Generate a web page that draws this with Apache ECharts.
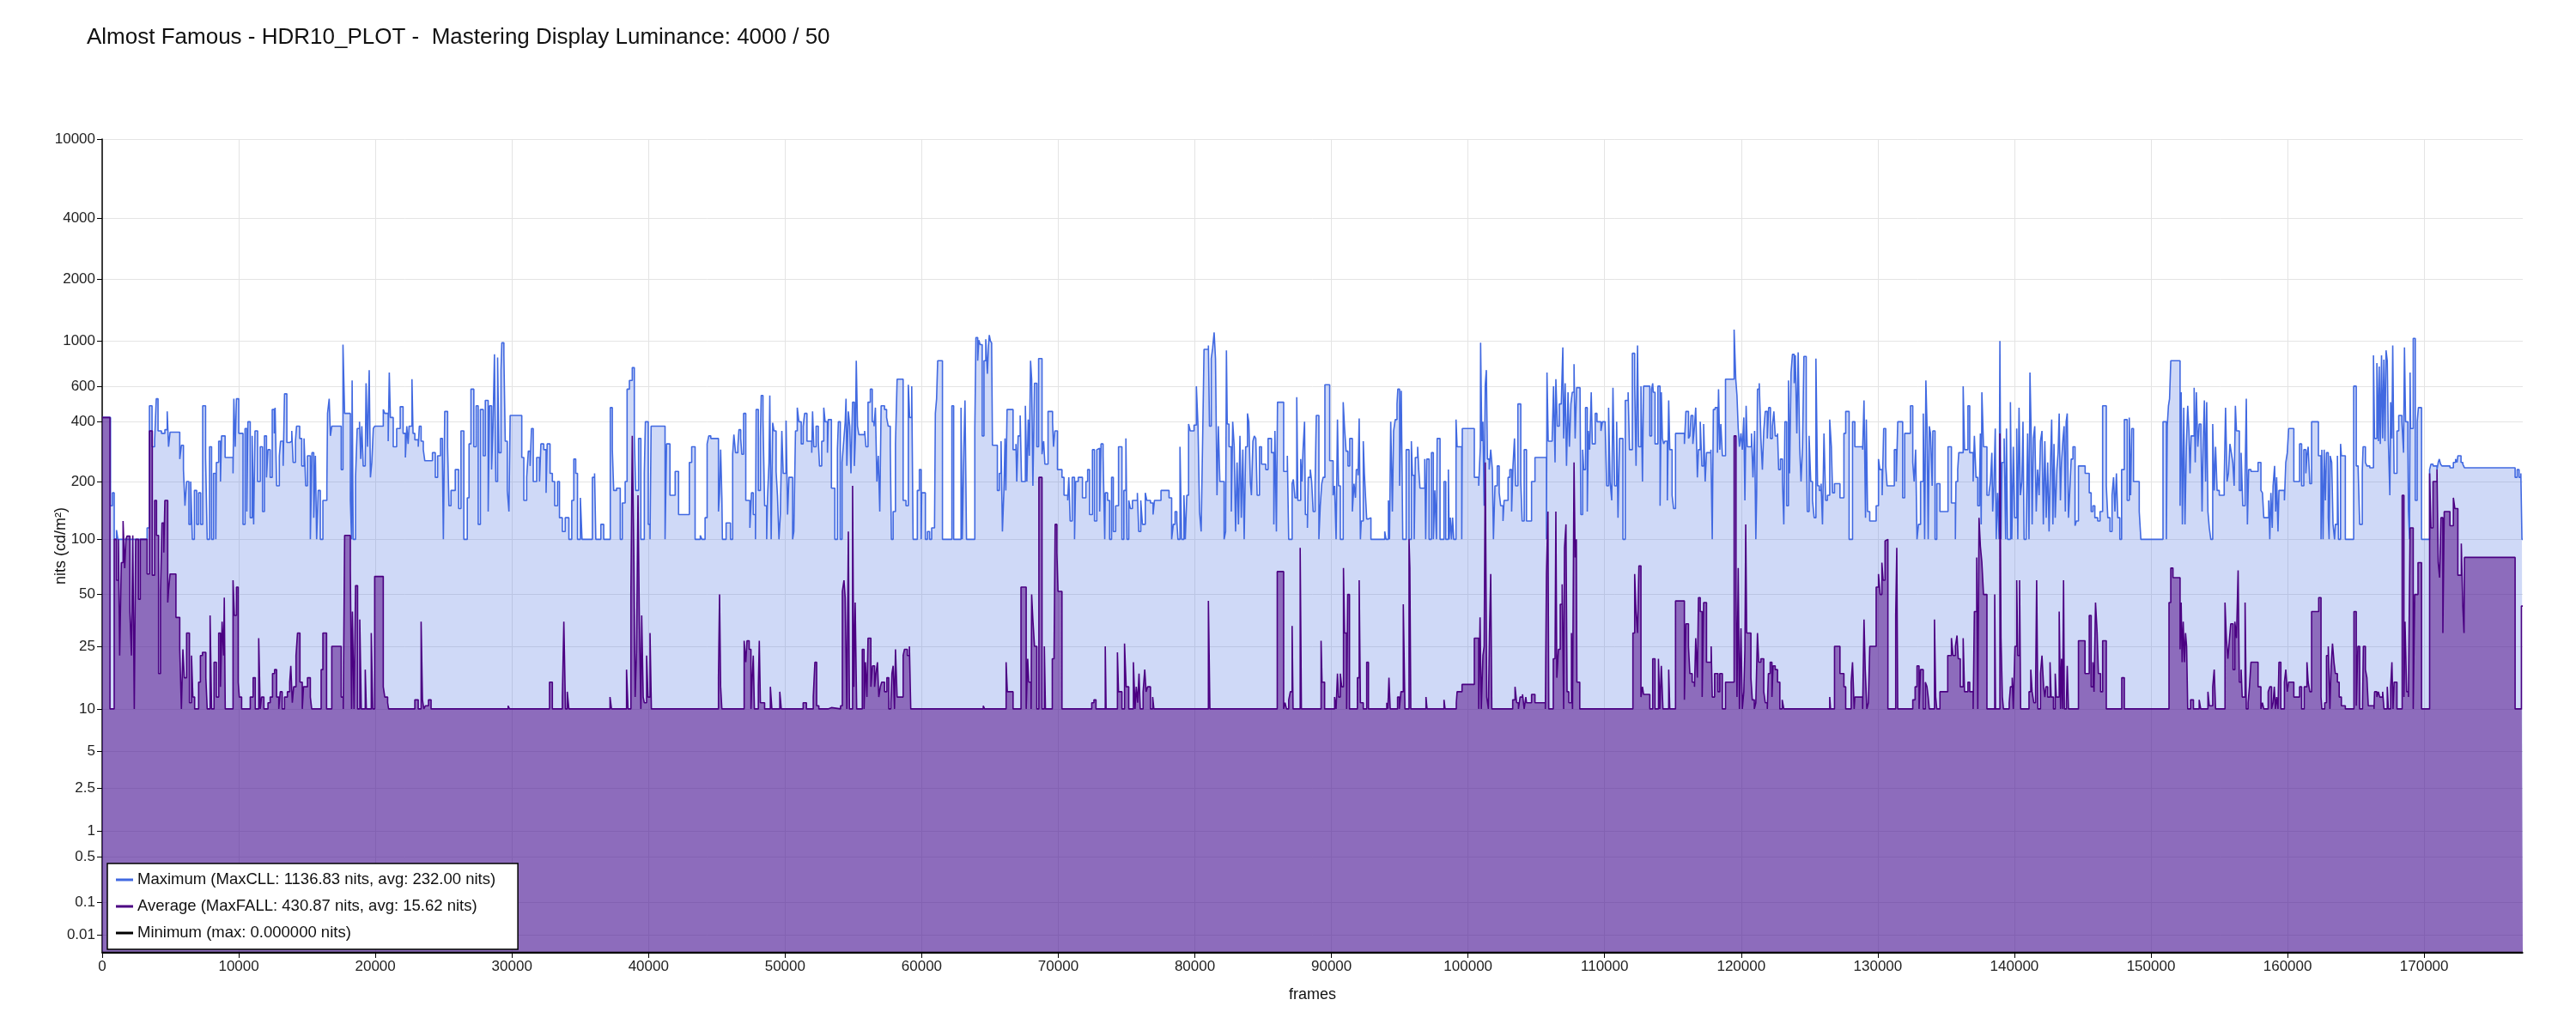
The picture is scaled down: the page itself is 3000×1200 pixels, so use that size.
<!DOCTYPE html>
<html>
<head>
<meta charset="utf-8">
<title>Almost Famous - HDR10_PLOT</title>
<script src="https://cdn.jsdelivr.net/npm/echarts@6/dist/echarts.min.js"></script>
<style>
  html, body { margin: 0; padding: 0; background: #fff; }
  #main { width: 3000px; height: 1200px; }
</style>
</head>
<body>
<div id="main"></div>
<script>
// 每一项为 [帧号, 亮度 nits]，数值保持到下一项（阶梯）
const maxSteps = [
  [0,420],[610,150],[750,175],[880,100],[1050,112],[1150,100],[3290,115],[3460,480],[3650,300],[3840,320],[3960,520],[4090,360],[4340,350],[4590,365],[4760,450],[4860,300],[4970,355],[5680,260],[5800,305],[5950,230],[6060,150],[6180,200],[6350,120],[6480,200],[6600,100],[6750,180],[6920,120],[7060,175],[7210,120],[7360,480],[7570,265],[7690,100],[7860,300],[8010,100],[8150,220],[8320,100],[8360,250],[8530,320],[8660,200],[8740,340],[9000,265],[9580,220],[9640,520],[9740,300],[9830,520],[10000,350],[10310,120],[10460,370],[10590,140],[10670,400],[10840,130],[10980,340],[11090,120],[11190,360],[11380,200],[11570,300],[11740,140],[11880,340],[12030,210],[12140,290],[12300,210],[12450,460],[12600,350],[12660,470],[12770,190],[12970,270],[13060,320],[13250,240],[13350,550],[13520,315],[13730,320],[13880,360],[13980,250],[14150,320],[14230,380],[14460,330],[14610,240],[14780,330],[14900,190],[15030,270],[15240,100],[15360,280],[15490,130],[15610,270],[15700,100],[15820,180],[15970,100],[16160,160],[16450,190],[16500,440],[16620,520],[16710,340],[16810,380],[17500,230],[17630,960],[17750,440],[18170,160],[18260,100],[18300,640],[18380,100],[18550,210],[18670,370],[18840,400],[18930,260],[19010,380],[19110,240],[19260,250],[19320,620],[19430,300],[19550,720],[19640,210],[19740,250],[19850,370],[19950,380],[20580,460],[20690,440],[20940,320],[21020,700],[21100,420],[21310,300],[21560,370],[21820,475],[22030,350],[22200,265],
  [22300,380],[22400,310],[22470,380],[22680,650],[22760,350],[22890,325],[23140,300],[23220,380],[23350,320],[23510,290],[23620,255],[24180,280],[24390,210],[24560,270],[24770,330],[24910,260],[24980,100],[25080,450],[25290,300],[25390,150],[25540,180],[25850,230],[26100,145],[26270,360],[26480,100],[26730,165],[26860,310],[27000,580],[27210,300],[27380,480],[27530,120],[27690,460],[27900,270],[28050,510],[28260,140],[28360,480],[28510,230],[28610,370],[28720,860],[28820,200],[28950,830],[29050,280],[29200,720],[29260,980],[29410,850],[29510,320],[29660,180],[29780,140],[29870,430],[30720,265],[30870,160],[31080,210],[31200,285],[31330,240],[31430,370],[31560,200],[31810,265],[32020,200],[32120,310],[32330,290],[32500,175],[32580,310],[32790,220],[32960,200],[33130,150],[33340,200],[33480,130],[33690,110],[33900,130],[34170,100],[34380,160],[34530,260],[34670,220],[34800,100],[35010,165],[35130,100],[35890,210],[36050,220],[36140,100],[36510,120],[36720,100],[37200,470],[37350,290],[37450,180],[37660,185],[37930,100],[38080,155],[38290,200],[38430,580],[38600,640],[38810,740],[38960,340],[39060,180],[39270,330],[39440,100],[39690,220],[39770,400],[39980,120],[40110,100],[40190,380],[41210,100],[41320,310],[41570,170],[41950,225],[42200,135],[42990,250],[43160,300],[43410,100],[43790,105],[43910,100],[44140,130],[44290,310],[44410,340],[44560,330],
  [44950,330],[45120,140],[45200,175],[45280,290],[45370,165],[45410,100],[45680,122],[46000,100],[46160,275],[46250,345],[46370,280],[46540,300],[46620,365],[46750,330],[46830,275],[46960,440],[47120,160],[47420,115],[47540,175],[47670,135],[47830,100],[47880,460],[48040,180],[48190,330],[48250,540],[48380,410],[48500,150],[48650,100],[48710,165],[48820,250],[48880,540],[48980,100],[49090,395],[49190,360],[49340,225],[49440,170],[49550,100],[49650,135],[49760,360],[49860,220],[50070,405],[50180,135],[50280,210],[50550,100],[50640,110],[50760,360],[50890,470],[51010,400],[51180,310],[51320,380],[51430,440],[51600,320],[51950,280],[52010,450],[52100,300],[52270,380],[52430,320],[52520,240],[52680,320],[52830,470],[52930,400],[53100,280],[53160,410],[53390,185],[53640,100],[53830,290],[53900,400],[54040,100],[54170,250],[54290,320],[54400,400],[54460,520],[54520,240],[54630,450],[54730,380],[54820,220],[54940,500],[55070,240],[55150,340],[55210,800],[55300,380],[55400,345],[55820,360],[55920,300],[56070,500],[56240,580],[56380,400],[56510,380],[56610,470],[56720,200],[56820,270],[56930,140],[57030,480],[57280,460],[57430,420],[57550,380],[57700,300],[57780,100],[57910,140],[58080,310],[58200,650],[58640,160],[58850,150],[59020,610],[59120,420],[59270,600],[59370,100],[59680,180],[59830,230],[59960,100],[60000,175],[60270,100],[60420,110],[60580,100],[60730,115],[60940,120],[61000,440],[61090,520],[61170,800],[61520,100],[62210,480],[62340,100],[62880,470],[62970,100],[63090,300],[63170,510],[63280,100],[63890,370],[63970,1040],[64100,800],[64180,1010],[64280,960],[64430,340],[64560,800],[64690,1020],[64810,690],[64890,950],[64950,1070],[65030,1000],[65120,980],[65180,305],[65540,180],[65680,220],[65810,320],[65910,110],[66020,180],[66100,330],[66160,180],[66250,460],[66690,290],[66900,310],[66960,200],[67060,340],[67210,430],[67310,200],
  [67590,480],[67700,200],[67800,410],[67880,270],[67970,800],[68050,650],[68140,190],[68260,620],[68430,300],[68560,820],[68810,275],[68930,320],[69020,245],[69250,450],[69580,400],[69650,300],[69750,360],[69940,230],[70270,210],[70420,170],[70690,160],[70770,210],[70870,125],[71020,210],[71190,100],[71270,200],[71460,210],[71770,165],[72020,200],[72150,230],[72290,135],[72500,290],[72650,125],[72820,290],[72940,295],[73030,140],[73130,310],[73280,270],[73400,100],[73440,175],[73610,160],[73760,100],[73900,210],[74030,110],[74200,150],[74410,300],[74660,100],[74800,180],[74950,330],[75030,100],[75160,160],[75280,145],[75430,160],[75790,175],[75890,110],[76040,160],[76160,120],[76370,175],[76480,160],[76750,155],[76940,135],[77040,160],[77520,180],[78110,165],[78300,100],[78420,120],[78550,140],[78680,125],[78760,100],[78910,300],[79030,100],[79200,170],[79300,100],[79410,170],[79540,390],[79660,360],[79940,385],[80110,600],[80230,380],[80340,140],[80460,110],[80570,330],[80670,910],[80990,950],[81070,380],[81200,820],[81300,920],[81410,1100],[81510,820],[81620,170],[81720,380],[81830,200],[82140,100],[82250,110],[82310,900],[82370,390],[82500,300],[82670,140],[82770,400],[82880,300],[82980,110],[83090,250],[83190,120],[83300,340],[83400,130],[83510,290],[83610,100],[83720,300],[83850,440],[83950,400],[84060,200],[84140,170],[84250,320],[84350,340],[84460,330],[84560,170],[84730,300],[84880,245],[85190,230],[85360,330],[85610,280],[85780,120],[85860,360],[85970,110],[86050,500],[86500,225],[86770,270],[86870,100],[87120,195],[87210,205],[87330,165],[87460,530],[87540,160],[87750,260],[87840,200],[87920,290],[88030,400],[88090,135],[88240,115],[88300,210],[88450,230],[88550,200],[88660,140],[88800,190],[88890,430],[89080,100],[89180,150],[89290,195],[89390,210],[89520,610],[89870,255],[90120,170],
  [90230,190],[90340,100],[90440,410],[90520,190],[90650,100],[90860,500],[90960,370],[91070,285],[91210,240],[91340,330],[91530,140],[91650,195],[91760,165],[91820,230],[91950,215],[92030,415],[92120,100],[92180,125],[92330,320],[92410,220],[92500,165],[92580,128],[92710,130],[92890,100],[93900,110],[94000,100],[94170,160],[94250,100],[94340,400],[94460,140],[94550,360],[94670,410],[94800,490],[94860,580],[94990,190],[95110,570],[95220,100],[95470,290],[95680,100],[95850,320],[95930,215],[96060,100],[96140,265],[96310,300],[96390,230],[96480,185],[96830,260],[96900,100],[96980,260],[97150,100],[97320,280],[97460,100],[97570,180],[97690,100],[97740,330],[97950,100],[98240,200],[98370,100],[98560,230],[98620,100],[98700,130],[98790,100],[98870,130],[98950,100],[99120,410],[99200,300],[99540,100],[99580,370],[100460,210],[100780,190],[100900,300],[100920,980],[101010,320],[101090,400],[101180,150],[101260,610],[101340,720],[101420,260],[101550,230],[101660,290],[101780,230],[101860,100],[101970,190],[102140,240],[102280,175],[102390,150],[102560,125],[102640,160],[102930,210],[103060,230],[103190,140],[103290,240],[103400,330],[103480,190],[103650,490],[103860,200],[103960,125],[104110,290],[104280,125],[104650,200],[104900,265],[105740,100],[105780,700],[105870,320],[106160,330],[106260,600],[106370,250],[106430,650],[106540,380],[106680,490],[106830,500],[106940,930],[107000,330],[107110,620],[107210,240],[107320,560],[107420,300],[107530,490],[107630,560],[107760,770],[107840,330],[107950,590],[108200,560],[108260,135],[108390,290],[108470,230],[108600,470],[108730,140],[108810,360],[108900,290],[109020,560],[109100,310],[109310,440],[109440,400],[109730,360],[109840,400],[110040,390],[110150,190],[110290,470],[110400,200],[110520,160],[110610,590],[110730,190],[110880,400],[110980,130],[111090,330],[111340,100],[111510,510],[111720,560],[111820,290],[112030,870],[112200,610],[112300,240],[112410,950],[112490,300],[112660,600],[112770,200],
  [112850,600],[113310,340],[113440,580],[113520,620],[113560,560],[113690,310],[113900,600],[114060,150],[114150,560],[114230,330],[114320,310],[114420,320],[114590,160],[114690,510],[114770,290],[114940,170],[115050,145],[115190,350],[115840,310],[115950,450],[116140,330],[116240,340],[116330,430],[116460,310],[116580,380],[116670,470],[116790,210],[116870,290],[117000,400],[117120,240],[117250,390],[117360,200],[117460,280],[117780,290],[117880,100],[117960,460],[118090,470],[118260,280],[118340,580],[118430,290],[118510,390],[118620,270],[118850,650],[119480,1137],[119600,650],[119690,540],[119780,370],[119870,300],[119980,350],[120080,290],[120190,420],[120270,160],[120360,480],[120440,300],[120750,350],[120860,210],[120980,360],[121070,100],[121130,170],[121190,580],[121320,620],[121440,330],[121550,230],[121650,360],[121760,450],[121910,330],[122010,470],[122140,330],[122280,380],[122390,450],[122490,340],[122660,350],[122740,230],[122870,260],[123020,200],[123120,120],[123200,400],[123330,150],[123460,640],[123540,220],[123650,700],[123750,860],[123880,620],[123960,850],[124070,350],[124170,880],[124280,300],[124380,200],[124490,300],[124590,840],[124760,370],[124840,140],[124970,340],[125090,200],[125220,160],[125340,130],[125470,820],[125590,190],[125720,180],[125850,195],[125950,120],[126060,350],[126180,160],[126310,170],[126480,410],[126600,300],[126690,175],[126830,195],[127230,165],[127520,350],[127650,450],[127900,100],[128150,400],[128320,300],[128890,290],[128990,510],[129100,130],[129160,410],[129250,140],[129410,125],[129880,150],[130050,260],[130150,230],[130320,170],[130430,370],[130580,240],[130680,190],[131210,290],[131350,200],[131460,400],[131820,165],[131970,350],[132390,480],[132560,250],[132660,200],[132770,290],[132870,100],[132980,120],[133130,200],[133330,440],[133430,100],[133520,640],[133600,390],[133690,100],[133770,380],[133860,350],[133980,190],[134030,360],[134190,100],[134320,195],[134550,140],[135140,300],[135390,155],
  [135510,155],[135680,100],[135720,200],[135850,230],[135930,280],[136250,600],[136350,290],[136600,480],[136730,280],[136980,200],[137070,340],[137190,210],[137320,150],[137450,200],[137510,350],[137570,120],[137620,560],[137740,300],[137990,170],[138140,175],[138250,200],[138350,280],[138410,140],[138500,190],[138600,370],[138670,100],[138770,175],[138880,100],[138940,1000],[139020,100],[139090,250],[139250,330],[139360,100],[139420,370],[139500,100],[139710,500],[139810,100],[139920,300],[140020,130],[140170,370],[140250,100],[140340,470],[140440,170],[140550,200],[140630,400],[140710,100],[140860,110],[140970,350],[141070,100],[141140,700],[141220,380],[141300,120],[141390,330],[141490,380],[141600,140],[141700,230],[141810,170],[141910,320],[142020,360],[142120,120],[142230,320],[142330,130],[142440,250],[142540,110],[142650,260],[142730,410],[142820,120],[142900,310],[142990,130],[143110,230],[143200,280],[143280,440],[143370,160],[143450,250],[143560,330],[143640,380],[143730,140],[143790,400],[143870,440],[143960,130],[144040,170],[144160,260],[144290,300],[144440,118],[144540,125],[144690,240],[145180,220],[145480,175],[145620,140],[145750,150],[145890,130],[146100,125],[146270,140],[146460,480],[146730,190],[146840,130],[147000,110],[147150,170],[147260,210],[147360,140],[147470,220],[147570,130],[147720,100],[147850,230],[148050,410],[148260,160],[148410,420],[148510,170],[148590,370],[148720,200],[149140,140],[149260,100],[150880,400],[151130,100],[151190,380],[151280,480],[151360,520],[151450,800],[152130,150],[152210,560],[152300,120],[152400,470],[152490,120],[152590,300],[152690,480],[152780,360],[152860,220],[152940,340],[153160,590],[153240,250],[153320,560],[153430,300],[153530,390],[153660,340],[153740,140],[153830,330],[153910,510],[154000,200],[154080,500],[154170,140],[154270,115],[154380,100],[154520,390],[154630,180],[154730,300],[154840,180],[155000,170],[155360,200],[155460,470],[155570,200],[155670,220],[155780,310],[155880,280],[155990,250],[156090,190],[156180,480],[156260,360],[156470,180],[156600,280],[156720,150],[156890,210],[156980,520],[157060,120],[157150,230],[157320,225],[157840,250],[158050,180],
  [158160,175],[158260,130],[158620,160],[158700,100],[158780,175],[158880,115],[158940,190],[159050,240],[159130,140],[159200,210],[159300,110],[159370,180],[159770,160],[159870,250],[159980,280],[160080,370],[160460,200],[160880,310],[161030,190],[161190,290],[161340,220],[161420,270],[161510,300],[161630,195],[161760,400],[162260,270],[162450,100],[162510,290],[162600,100],[162680,290],[162770,160],[162850,280],[162980,130],[163040,100],[163120,270],[163230,250],[163330,120],[163440,100],[163500,120],[163650,270],[163730,100],[163880,310],[163940,270],[164230,100],[164840,600],[165030,240],[165170,230],[165280,120],[165470,225],[165530,300],[165700,250],[165810,240],[166020,235],[166290,850],[166370,330],[166540,780],[166650,320],[166710,750],[166790,310],[166880,850],[166960,330],[167050,810],[167130,320],[167210,900],[167300,800],[167380,320],[167490,170],[167550,500],[167640,330],[167700,950],[167800,220],[168010,360],[168140,430],[168370,400],[168490,280],[168560,930],[168640,400],[168810,300],[168850,140],[168930,100],[168970,700],[169010,370],[169200,1030],[169350,160],[169490,400],[169580,470],[169810,100],[170400,230],[170500,245],[170650,240],[170940,230],[171030,250],[171110,260],[171200,245],[171300,240],[171890,235],[172140,250],[172300,260],[172410,250],[172470,270],[172700,250],[172830,245],[172950,235],[176660,210],[176810,230],[176950,210],[177080,220],[177160,100],[177220,100]
];

const avgSteps = [
  [0,420],[570,10],[880,100],[1050,60],[1190,100],[1280,22],[1400,75],[1530,125],[1650,70],[1740,100],[1820,104],[2030,40],[2140,22],[2240,105],[2350,10],[2450,100],[2660,47],[2790,100],[3290,65],[3460,360],[3670,64],[3840,160],[3980,105],[4130,17],[4270,52],[4380,122],[4510,85],[4590,160],[4800,45],[4860,53],[4970,65],[5400,37],[5680,24],[5800,10],[5910,24],[6010,16],[6180,30],[6390,11],[6540,22],[6640,12],[6770,10],[7060,15],[7190,22],[7340,23],[7590,16],[7690,10],[7900,38],[8010,10],[8190,20],[8360,12],[8530,30],[8660,14],[8780,35],[8890,22],[8940,48],[9010,10],[9580,60],[9680,38],[9830,55],[9960,15],[10040,12],[10210,10],[10840,12],[11050,16],[11210,10],[11460,28],[11570,10],[11670,12],[11840,10],[12140,11],[12300,12],[12470,17],[12620,18],[12770,12],[12930,10],[13040,13],[13180,10],[13350,12],[13560,13],[13730,15],[13810,19],[13920,11],[14020,14],[14190,22],[14300,30],[14480,15],[14650,10],[14740,14],[15030,16],[15240,12],[15340,10],[16030,18],[16160,30],[16430,10],[16810,25],[17500,12],[17650,10],[17750,105],[18170,68],[18260,10],[18320,40],[18440,10],[18550,56],[18700,10],[18860,36],[18970,10],[19260,18],[19340,10],[19700,30],[19810,10],[19950,63],[20580,14],[20690,12],[20900,11],[20970,10],
  [22890,11.5],[23140,10],[23350,35],[23450,11.5],[23550,10],[23660,10.5],[23890,11.5],[24080,10],[29720,10.5],[29820,10],[32750,15],[32960,10],[33690,12],[33800,35],[33920,10],[34050,13],[34170,10],[37180,12],[37290,10],[38390,18],[38500,10],[38710,50],[38810,340],[38920,90],[39020,12],[39120,23],[39230,170],[39330,35],[39440,10],[39500,38],[39610,12],[39690,11],[39860,22],[39960,12],[40110,30],[40210,10],
  [45120,16],[45200,50],[45280,14],[45370,10],[47000,27],[47120,20],[47210,27],[47370,24],[47500,10],[47560,14],[47670,22],[47750,10],[48040,14],[48110,27],[48190,11],[48500,10],[48920,14],[49030,10],[49610,13],[49720,10],[51320,11],[51560,10],[52060,12],[52180,20],[52310,10.5],[52470,10],[53140,10.2],[53390,10],[54060,10.5],[54190,52],[54310,60],[54400,48],[54520,10],[54630,110],[54710,10],[54940,190],[55030,14],[55130,45],[55240,10],[55650,24],[55780,10],[55880,20],[55990,12],[56070,28],[56280,14],[56400,19],[56550,14],[56650,17],[56760,20],[56860,12],[56970,14],[57070,15],[57280,13],[57450,16],[57590,10],[57740,11],[57820,17],[57910,19],[58010,10],[58080,24],[58200,12],[58640,22],[58740,24],[58950,22],[59100,25],[59200,10],[64510,10.5],[64600,10],[66180,20],[66270,13],[66690,10],[67270,55],
  [67650,10],[67760,21],[67840,15],[68010,10],[68050,50],[68140,36],[68260,25],[68430,10],[68580,210],[68810,10],[68980,25],[69060,10],[69560,21],[69690,22],[69770,120],[69900,85],[69980,52],[70270,10],[72450,11],[72610,11.5],[72760,10],[73440,25],[73500,10],[74330,23],[74410,13],[74660,10],[74850,26],[74970,14],[75160,10],[75500,20],[75620,10],[75710,14],[75810,11],[75910,17],[76000,10],[76210,13],[76330,18],[76430,13],[76540,14],[76750,10],[76910,12],[77000,10],[80990,46],[81100,10],[86030,67],[86500,10],[86600,11],[86710,10],[86870,11.5],[86990,13],[87120,33],[87190,10],[87710,90],[87800,10],[89240,27],[89310,15],[89500,10],
  [90230,12],[90340,10],[90440,17],[90520,12],[90650,17],[90750,14],[90880,70],[90960,30],[91110,10],[91190,50],[91320,10],[91900,16],[92030,60],[92120,11],[92330,10],[92580,20],[92710,10],[94050,11],[94130,10],[94210,16],[94300,10],[94840,12],[94970,10],[95090,13],[95260,44],[95380,10],[95680,100],[95740,70],[95810,10],[96920,12],[97000,10],[98240,11.5],[98320,10],[99140,11],[99200,13],[99560,14.5],[100460,28],[100780,10],[100880,37],[100970,10],[101090,22],[101180,25],[101260,250],[101370,12],[101490,10],[101570,30],[101660,65],[101740,10],[103270,11.5],[103440,14],[103560,11],[103690,10],[103810,12],[103990,12.5],[104110,10],[104230,12],[104280,11],[104650,12.5],[104900,11],[105660,10],[105740,65],[105850,140],[105910,10],[106240,21],[106370,22],[106430,140],[106500,16],[106620,24],[106750,44],[106890,57],[107000,10],[107060,90],[107170,120],[107250,13],[107380,11],[107570,30],[107650,10],[107760,250],[107840,80],[107930,100],[107970,15],[108180,10],[112070,30],[112200,65],[112300,40],[112410,30],[112510,72],[112660,12],[112770,14],
  [112850,12.5],[113310,10],[113520,21],[113690,10],[113940,21],[114040,10],[114150,19],[114270,10],[114690,18],[114770,10],[115190,46],[115840,11.5],[115950,34],[116140,25],[116240,17],[116410,15],[116580,14],[116670,28],[116790,16],[116870,48],[117000,40],[117140,12],[117250,45],[117460,20],[117800,25],[117880,12],[118050,17],[118300,13],[118430,17],[118620,10],[118850,15],[119480,340],[119620,50],[119690,12],[119780,70],[119870,10],[119980,32],[120080,10],[120190,13],[120270,24],[120330,120],[120400,30],[120710,16],[120810,11.5],[120960,10],[121070,11],[121190,30],[121280,20],[121440,21],[121650,13],[121760,11],[121910,10],[121990,17],[122120,20],[122250,12],[122330,19],[122490,18],[122660,15],[122830,10],[123000,11.5],[123120,10],[126480,12],[126540,10],[126830,25],[127230,17],[127520,14],[127650,10],[128050,15],[128150,20],[128270,10],[128320,12],[128890,10],[128990,36],[129080,18],[129200,10],[129310,11],[129410,25],[129880,55],[130050,65],[130170,50],[130300,75],[130390,60],[130530,98],[130640,100],[130740,10],[131310,38],[131390,90],[131460,10],[132560,11.5],[132730,14],[132870,19],[133020,10],[133130,18],[133330,10],[133480,15],[133600,14],[133690,12],[133770,10],[134150,36],[134240,12],[134320,10],[134550,13],[135120,22],[135390,28],
  [135510,22],[135680,25],[135800,29],[135890,21],[136040,14],[136250,28],[136350,13],[136600,15],[136730,13],[136980,10],[137070,40],[137240,80],[137320,10],[137410,130],[137510,92],[137620,75],[137740,50],[137990,10],[138560,50],[138620,10],[138940,350],[139020,28],[139120,12],[139200,10],[139620,11],[139710,14],[139840,16],[139920,10],[140040,25],[140170,60],[140250,22],[140380,60],[140460,10],[141070,13],[141200,18],[141300,13],[141420,11],[141550,13],[141630,60],[141720,10],[141910,17],[142020,22],[142140,14],[142230,12],[142310,14],[142440,12],[142610,20],[142690,12],[142860,10],[142990,17],[143070,12],[143280,40],[143380,10],[143450,21],[143530,10],[143600,60],[143660,10],[143810,11],[143870,19],[143960,10],[144690,27],[145170,17],[145480,38],[145620,14],[145750,20],[145830,13],[145940,45],[146060,30],[146150,17],[146310,13],[146460,27],[146730,10],[147860,16],[148050,10],[151320,45],[151450,70],[151610,62],[152130,24],[152210,45],[152280,20],[152360,35],[152450,20],[152530,30],[152610,25],[152690,10],[152900,11.5],[153110,10],[153530,11.5],[153640,10],[154170,13],[154270,10.5],[154520,14],[154630,18],[154730,10],[155420,45],[155520,28],[155630,21],[155750,28],[155840,34],[156010,18],[156140,35],[156260,28],[156380,68],[156470,15],[156600,18],[156680,12],[156890,45],[156980,10],[157110,11],[157210,14],[157320,20],[157840,14],[158050,10],
  [158160,11],[158260,10],[158580,13],[158700,14],[158830,10],[158940,11],[159030,14],[159110,10],[159200,12],[159300,10],[159370,20],[159510,10],[159770,15],[159870,18],[159980,13],[160080,15],[160460,12],[160880,14],[161030,10],[161220,14],[161420,20],[161510,15],[161630,13],[161760,40],[162280,48],[162450,12],[162510,10],[162720,11],[162850,22],[162980,25],[163100,10],[163190,19],[163290,26],[163400,20],[163500,17],[163650,15],[163780,12],[163940,10.5],[164230,10],[164860,40],[165030,10.5],[165150,25],[165280,10],[165490,11],[165550,25],[165700,18],[165810,16],[165910,10.5],[166330,10],[166370,13],[166540,12],[166650,13],[166750,12],[166960,13],[167060,10],[167300,14],[167380,10],[167550,14],[167640,20],[167720,10],[167800,15],[168010,10],[168390,170],[168520,12],[168600,35],[168720,13],[168850,12],[168970,115],[169200,10],[169310,50],[169550,75],[169810,10],[170400,220],[170500,115],[170650,200],[170940,230],[171030,75],[171130,62],[171230,130],[171370,30],[171470,140],[171890,118],[172140,165],[172250,145],[172470,64],[172720,95],[172830,43],[172920,30],[172950,80],[176660,10],[177120,43],[177220,43]
];

const minSteps = [[0, 0], [177220, 0]];

const yTickNits = [0.01, 0.1, 0.5, 1, 2.5, 5, 10, 25, 50, 100, 200, 400, 600, 1000, 2000, 4000, 10000];
const xTickFrames = [0, 10000, 20000, 30000, 40000, 50000, 60000, 70000, 80000, 90000,
  100000, 110000, 120000, 130000, 140000, 150000, 160000, 170000];
const frameMax = 177220;

const legendNames = [
  'Maximum (MaxCLL: 1136.83 nits, avg: 232.00 nits)',
  'Average (MaxFALL: 430.87 nits, avg: 15.62 nits)',
  'Minimum (max: 0.000000 nits)'
];

// SMPTE ST 2084 (PQ) 编码，y 轴按 PQ 码值线性排列
function pq(nits) {
  const m1 = 0.1593017578125, m2 = 78.84375;
  const c1 = 0.8359375, c2 = 18.8515625, c3 = 18.6875;
  const ym = Math.pow(Math.max(nits, 0) / 10000, m1);
  return Math.pow((c1 + c2 * ym) / (1 + c3 * ym), m2);
}

const toPq = steps => steps.map(p => [p[0], pq(p[1])]);
const yTickPq = yTickNits.map(pq);

function yLabel(v) {
  let best = 0;
  for (let i = 1; i < yTickPq.length; i += 1) {
    if (Math.abs(yTickPq[i] - v) < Math.abs(yTickPq[best] - v)) best = i;
  }
  return String(yTickNits[best]);
}

const font = 'Liberation Sans, Arial, sans-serif';
const myChart = echarts.init(document.getElementById('main'));
const option = {
  animation: false,
  backgroundColor: '#fff',
  textStyle: { fontFamily: font },
  title: {
    text: 'Almost Famous - HDR10_PLOT -  Mastering Display Luminance: 4000 / 50',
    left: 96,
    top: 26,
    textStyle: { fontSize: 26, fontWeight: 'normal', color: '#111', fontFamily: font }
  },
  grid: { left: 119, right: 62, top: 162, bottom: 90 },
  legend: {
    orient: 'vertical',
    left: 125,
    top: 1006,
    padding: [9, 26, 9, 10],
    itemGap: 11,
    itemWidth: 20,
    itemHeight: 3,
    icon: 'rect',
    backgroundColor: '#fff',
    borderColor: '#000',
    borderWidth: 1.5,
    borderRadius: 0,
    textStyle: { fontSize: 18.5, color: '#111', lineHeight: 20, fontFamily: font },
    data: legendNames
  },
  xAxis: {
    type: 'value',
    min: 0,
    max: frameMax,
    interval: 10000,
    name: 'frames',
    nameLocation: 'middle',
    nameGap: 40,
    nameTextStyle: { fontSize: 18, color: '#111', fontFamily: font },
    axisLine: { show: true, onZero: false, lineStyle: { color: '#000', width: 1.5 } },
    axisTick: { show: true, length: 6, customValues: xTickFrames, lineStyle: { color: '#000' } },
    axisLabel: { fontSize: 17, color: '#222', margin: 8, customValues: xTickFrames, formatter: v => String(v) },
    splitLine: { show: true, lineStyle: { color: '#e4e4e4', width: 1 } }
  },
  yAxis: {
    type: 'value',
    min: 0,
    max: 1,
    name: 'nits (cd/m²)',
    nameLocation: 'middle',
    nameGap: 39,
    nameMoveOverlap: false,
    nameTextStyle: { fontSize: 18, color: '#111', fontFamily: font },
    axisLine: { show: true, onZero: false, lineStyle: { color: '#000', width: 1.5 } },
    axisTick: { show: true, length: 6, customValues: yTickPq, lineStyle: { color: '#000' } },
    axisLabel: { fontSize: 17, color: '#222', margin: 8, customValues: yTickPq, formatter: yLabel },
    splitLine: { show: true, lineStyle: { color: '#e4e4e4', width: 1 } }
  },
  series: [
    {
      name: legendNames[0],
      type: 'line',
      step: 'end',
      showSymbol: false,
      color: '#4169e1',
      lineStyle: { color: '#4169e1', width: 1.6 },
      areaStyle: { color: 'rgba(65,105,225,0.25)', opacity: 1 },
      data: toPq(maxSteps),
      z: 2
    },
    {
      name: legendNames[1],
      type: 'line',
      step: 'end',
      showSymbol: false,
      color: '#4b0082',
      lineStyle: { color: '#4b0082', width: 1.6 },
      areaStyle: { color: 'rgba(75,0,130,0.5)', opacity: 1 },
      data: toPq(avgSteps),
      z: 3
    },
    {
      name: legendNames[2],
      type: 'line',
      showSymbol: false,
      color: '#000',
      lineStyle: { color: '#000', width: 2.5 },
      data: toPq(minSteps),
      z: 4
    }
  ]
};
myChart.setOption(option);
</script>
</body>
</html>
